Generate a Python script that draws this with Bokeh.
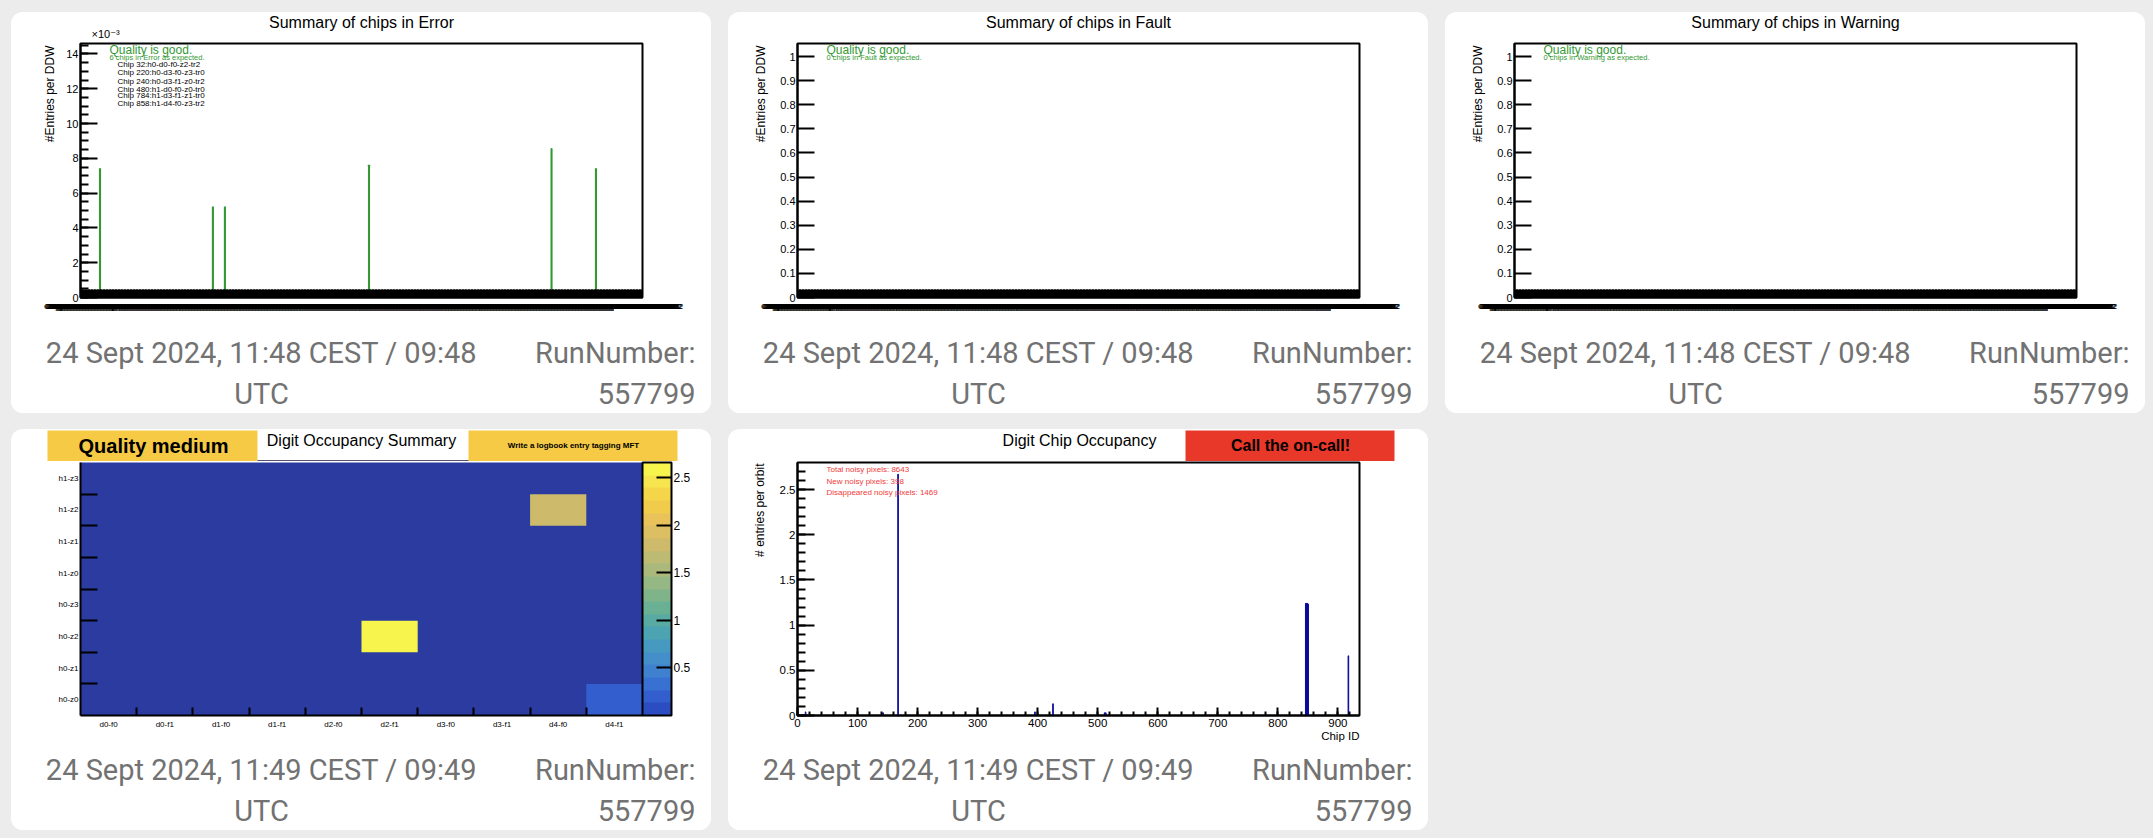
import math
from bokeh.plotting import figure
from bokeh.layouts import row, column
from bokeh.models import (Range1d, FixedTicker, Label, Title,
                          LinearColorMapper, ColorBar, ColumnDataSource)
from bokeh.embed import file_html
from bokeh.resources import INLINE

# ------------------------------------------------------------------ data
N_CHIPS = 936
chip_bin_labels = [
    f"Chip {i}:h{i // 468}-d{(i % 468) // 94}-f{(i % 94) // 47}-z{(i % 47) // 12}-tr{(i % 12) // 4}"
    for i in range(N_CHIPS)
]

summary_titles = ["Summary of chips in Error", "Summary of chips in Fault",
                  "Summary of chips in Warning"]
summary_quality = ["Quality is good.", "Quality is good.", "Quality is good."]
summary_counts = ["6 chips in Error as expected.", "0 chips in Fault as expected.",
                  "0 chips in Warning as expected."]

error_chips = [32, 220, 240, 480, 784, 858]
error_values_e3 = [7.4, 5.2, 5.2, 7.6, 8.55, 7.4]          # x 10^-3
error_chip_names = ["Chip 32:h0-d0-f0-z2-tr2", "Chip 220:h0-d3-f0-z3-tr0",
                    "Chip 240:h0-d3-f1-z0-tr2", "Chip 480:h1-d0-f0-z0-tr0",
                    "Chip 784:h1-d3-f1-z1-tr0", "Chip 858:h1-d4-f0-z3-tr2"]
error_yticks = [0, 2, 4, 6, 8, 10, 12, 14]
error_yminor = [0.5 * k for k in range(30)]
error_ymax = 14.6

unit_yticks = [0.0, 0.1, 0.2, 0.3, 0.4, 0.5, 0.6, 0.7, 0.8, 0.9, 1.0]
unit_ytick_labels = ["0", "0.1", "0.2", "0.3", "0.4", "0.5", "0.6", "0.7", "0.8", "0.9", "1"]
unit_ymax = 1.054

occ_cols = ["d0-f0", "d0-f1", "d1-f0", "d1-f1", "d2-f0", "d2-f1", "d3-f0", "d3-f1", "d4-f0", "d4-f1"]
occ_rows = ["h0-z0", "h0-z1", "h0-z2", "h0-z3", "h1-z0", "h1-z1", "h1-z2", "h1-z3"]
occ_values = [                       # rows bottom (h0-z0) -> top (h1-z3)
    [0, 0, 0, 0, 0, 0, 0, 0, 0, 0.2],
    [0, 0, 0, 0, 0, 0, 0, 0, 0, 0],
    [0, 0, 0, 0, 0, 2.66, 0, 0, 0, 0],
    [0, 0, 0, 0, 0, 0, 0, 0, 0, 0],
    [0, 0, 0, 0, 0, 0, 0, 0, 0, 0],
    [0, 0, 0, 0, 0, 0, 0, 0, 0, 0],
    [0, 0, 0, 0, 0, 0, 0, 0, 1.8, 0],
    [0, 0, 0, 0, 0, 0, 0, 0, 0, 0],
]
occ_zmax = 2.66
cbar_ticks = [0.5, 1, 1.5, 2, 2.5]
cbar_tick_labels = ["0.5", "1", "1.5", "2", "2.5"]
cbar_palette = ["#2c4dc2", "#325fcd", "#3971d2", "#3f81cf", "#448fc9", "#479abf",
                "#4ca3b1", "#58aaa3", "#69b095", "#7fb48b", "#95b783", "#aab97b",
                "#bcba73", "#cdbb6b", "#dcbe63", "#e9c35a", "#f1cb4b", "#f5d64b",
                "#f6e54f", "#f7f54d"]

noisy_chip_ids = [13, 142, 167, 395, 425, 511, 513, 846, 847, 848, 849, 850, 917]
noisy_values = [0.04, 0.03, 2.67, 0.04, 0.13, 0.03, 0.03, 1.24, 1.24, 1.24, 1.24, 1.23, 0.66]
noisy_xticks = [0, 100, 200, 300, 400, 500, 600, 700, 800, 900]
noisy_xminor = list(range(0, 940, 20))
noisy_yticks = [0, 0.5, 1, 1.5, 2, 2.5]
noisy_ytick_labels = ["0", "0.5", "1", "1.5", "2", "2.5"]
noisy_yminor = [0.1 * k for k in range(29)]
noisy_ymax = 2.8
noisy_texts = ["Total noisy pixels: 8643", "New noisy pixels: 398",
               "Disappeared noisy pixels: 1469"]

quality_banner = ["Quality medium", "Write a logbook entry tagging MFT", "Call the on-call!"]
timestamps = ["24 Sept 2024, 11:48 CEST / 09:48"] * 3 + ["24 Sept 2024, 11:49 CEST / 09:49"] * 2
run_number = "557799"

# ------------------------------------------------------------------ style
BG = "#ececec"
FONT = "Liberation Sans"
GREEN = "#339933"
NAVY = "#0b0b9c"
YELLOW = "#f6ca45"
RED = "#e8382a"
FOOT = "#727272"
CARD_W, CARD_H = 700, 401


def no_align(f):
    try:
        f.frame_align = False
    except Exception:
        pass
    return f


def text_fig(h):
    """a plain white strip (header / footer of a card) measured in pixels"""
    f = figure(width=CARD_W, height=h, x_range=Range1d(0, CARD_W), y_range=Range1d(h, 0),
               x_axis_type=None, y_axis_type=None, min_border=0,
               toolbar_location=None, output_backend="svg", title=None)
    f.grid.visible = False
    f.outline_line_color = None
    f.background_fill_color = "white"
    f.border_fill_color = "white"
    return no_align(f)


def txt(f, x, y, text, **kw):
    kw.setdefault("text_font", FONT)
    kw.setdefault("text_baseline", "middle")
    kw.setdefault("text_color", "black")
    f.add_layout(Label(x=x, y=y, text=text, **kw))


def main_fig(x_range, y_range, geom, top, bottom, outline=True):
    FL, FW, FH = geom
    p = figure(width=CARD_W, height=top + FH + bottom, x_range=x_range, y_range=y_range,
               min_border_left=FL, min_border_right=CARD_W - FL - FW,
               min_border_top=top, min_border_bottom=bottom,
               toolbar_location=None, output_backend="svg", title=None)
    p.background_fill_color = "white"
    p.border_fill_color = "white"
    p.grid.visible = False
    p.outline_line_color = "black" if outline else None
    p.outline_line_width = 2
    return no_align(p)


def inframe(p, geom, fx, fy, text, **kw):
    """text at pixel offset (fx right, fy down) from the frame's top-left corner"""
    FL, FW, FH = geom
    kw.setdefault("text_font", FONT)
    kw.setdefault("text_baseline", "middle")
    kw.setdefault("text_color", "black")
    p.add_layout(Label(x=fx, y=FH - fy, x_units="screen", y_units="screen", text=text, **kw))


def style_axis(ax, tick_in, minor_in, size, standoff, major_w=2):
    ax.axis_line_color = "black"
    ax.axis_line_width = 2
    ax.major_tick_in = tick_in
    ax.major_tick_out = 0
    ax.major_tick_line_width = major_w
    ax.minor_tick_in = minor_in
    ax.minor_tick_out = 0
    ax.minor_tick_line_width = 2
    if minor_in == 0:
        ax.minor_tick_line_color = None
    ax.major_label_text_font = FONT
    ax.major_label_text_font_size = size
    ax.major_label_text_color = "black"
    ax.major_label_standoff = standoff


def side_title(p, text, side, standoff, size="12px", offset=0):
    p.add_layout(Title(text=text, align="right", offset=offset, standoff=standoff,
                       text_font=FONT, text_font_size=size, text_font_style="normal",
                       text_color="black"), side)


def footer(h, stamp, y1, y2):
    f = text_fig(h)
    kw = dict(text_font="Roboto", text_font_size="29px", text_color=FOOT)
    txt(f, 250, y1, stamp, text_align="center", **kw)
    txt(f, 250, y2, "UTC", text_align="center", **kw)
    txt(f, 684, y1, "RunNumber:", text_align="right", **kw)
    txt(f, 684, y2, run_number, text_align="right", **kw)
    return f


def card(*figs):
    return column(*figs, spacing=0,
                  styles={"background-color": "white", "border-radius": "12px",
                          "overflow": "hidden"})


bin_overrides = {i + 0.5: chip_bin_labels[i] for i in range(N_CHIPS)}


def summary_card(k):
    geom = (69, 562, 254)
    hdr = text_fig(29)
    txt(hdr, 350, 10, summary_titles[k], text_align="center", text_font_size="16px")
    yr = Range1d(0, error_ymax) if k == 0 else Range1d(0, unit_ymax)
    p = main_fig(Range1d(0, N_CHIPS), yr, geom, top=2, bottom=30)
    # x axis: one labelled tick per chip bin
    p.xaxis.ticker = FixedTicker(ticks=[i + 0.5 for i in range(N_CHIPS)])
    p.xaxis.major_label_overrides = bin_overrides
    style_axis(p.xaxis, 8, 0, "7.5px", 4, major_w=1)
    if k == 0:
        p.yaxis.ticker = FixedTicker(ticks=error_yticks, minor_ticks=error_yminor)
        style_axis(p.yaxis, 17, 8, "11px", 2)
        src = ColumnDataSource(dict(x=[c + 0.5 for c in error_chips], top=error_values_e3))
        p.vbar(x="x", top="top", bottom=0, width=1, source=src,
               fill_color=GREEN, line_color=GREEN, line_width=1.5)
        txt(hdr, 80, 21, "\u00d710\u207b\u00b3", text_font_size="11px",
            text_font="Liberation Sans, DejaVu Sans")
        side_title(p, "#Entries per DDW", "left", standoff=13, offset=2)
    else:
        p.yaxis.ticker = FixedTicker(ticks=unit_yticks)
        p.yaxis.major_label_overrides = dict(zip(unit_yticks, unit_ytick_labels))
        style_axis(p.yaxis, 17, 0, "11px", 2)
        side_title(p, "#Entries per DDW", "left", standoff=20, offset=2)
    inframe(p, geom, 29, 6, summary_quality[k], text_font_size="12px", text_color=GREEN)
    inframe(p, geom, 29, 14, summary_counts[k], text_font_size="7.5px", text_color=GREEN)
    if k == 0:
        for name, fy in zip(error_chip_names, [21.3, 29.3, 37.6, 46.3, 51.7, 59.7]):
            inframe(p, geom, 37, fy, name, text_font_size="8px")
    ftr = footer(86, timestamps[k], 25, 66)
    return card(hdr, p, ftr)


c1 = summary_card(0)
c2 = summary_card(1)
c3 = summary_card(2)

# ------------------------------------------------------------ heat map
g4 = (69, 562, 253)
h4 = text_fig(32)
h4.quad(left=[36, 457], right=[246, 666], top=[1, 1], bottom=[32, 32],
        fill_color=YELLOW, line_color=None)
h4.segment(x0=[246], x1=[457], y0=[31.5], y1=[31.5], line_color="#1a1a40", line_width=1.5)
txt(h4, 142, 16, quality_banner[0], text_align="center", text_font_size="20px",
    text_font_style="bold")
txt(h4, 350, 11, "Digit Occupancy Summary", text_align="center", text_font_size="16px")
txt(h4, 562, 16, quality_banner[1], text_align="center", text_font_size="8px",
    text_font_style="bold")

p4 = main_fig(Range1d(0, len(occ_cols)), Range1d(0, len(occ_rows)), g4, top=1, bottom=30,
              outline=False)
p4.background_fill_color = "#2b3b9f"
mapper = LinearColorMapper(palette=cbar_palette, low=0, high=occ_zmax)
hx, hy, hv = [], [], []
for r, vals in enumerate(occ_values):
    for c, v in enumerate(vals):
        if v > 0:
            hx.append(c + 0.5)
            hy.append(r + 0.5)
            hv.append(v)
p4.rect(x="x", y="y", width=1, height=1, source=ColumnDataSource(dict(x=hx, y=hy, v=hv)),
        fill_color={"field": "v", "transform": mapper}, line_color=None)
p4.xaxis.ticker = FixedTicker(ticks=[c + 0.5 for c in range(len(occ_cols))],
                              minor_ticks=list(range(1, len(occ_cols))))
p4.xaxis.major_label_overrides = {c + 0.5: occ_cols[c] for c in range(len(occ_cols))}
style_axis(p4.xaxis, 0, 8, "8px", 4)
p4.yaxis.ticker = FixedTicker(ticks=[r + 0.5 for r in range(len(occ_rows))],
                              minor_ticks=list(range(1, len(occ_rows))))
p4.yaxis.major_label_overrides = {r + 0.5: occ_rows[r] for r in range(len(occ_rows))}
style_axis(p4.yaxis, 0, 17, "8px", 2)
cb = ColorBar(color_mapper=mapper, width=29, padding=0, margin=3, location="top_left",
              ticker=FixedTicker(ticks=cbar_ticks),
              major_label_overrides=dict(zip(cbar_ticks, cbar_tick_labels)),
              major_tick_in=15, major_tick_out=0, major_tick_line_color="black",
              major_tick_line_width=2, minor_tick_line_color=None,
              bar_line_color="black", bar_line_width=2, label_standoff=2,
              major_label_text_font=FONT, major_label_text_font_size="12px",
              major_label_text_color="black",
              background_fill_color=None, border_line_color=None)
p4.add_layout(cb, "right")
f4 = footer(85, timestamps[3], 24, 65)
c4 = card(h4, p4, f4)

# ------------------------------------------------------ chip occupancy
g5 = (69, 562, 253)
h5 = text_fig(32)
h5.quad(left=[457], right=[666], top=[1], bottom=[32], fill_color=RED, line_color=None)
txt(h5, 351, 11, "Digit Chip Occupancy", text_align="center", text_font_size="16px")
txt(h5, 562, 16, quality_banner[2], text_align="center", text_font_size="16px",
    text_font_style="bold")

p5 = main_fig(Range1d(0, N_CHIPS), Range1d(0, noisy_ymax), g5, top=1, bottom=30)
p5.vbar(x=[c + 0.5 for c in noisy_chip_ids], top=noisy_values, bottom=0, width=1,
        fill_color=NAVY, line_color=NAVY, line_width=1)
p5.xaxis.ticker = FixedTicker(ticks=noisy_xticks, minor_ticks=noisy_xminor)
style_axis(p5.xaxis, 8, 4, "11.5px", 3)
p5.yaxis.ticker = FixedTicker(ticks=noisy_yticks, minor_ticks=noisy_yminor)
p5.yaxis.major_label_overrides = dict(zip(noisy_yticks, noisy_ytick_labels))
style_axis(p5.yaxis, 17, 8, "11.5px", 2)
side_title(p5, "# entries per orbit", "left", standoff=20, offset=1)
side_title(p5, "Chip ID", "below", standoff=-4, size="11.5px")
for t, fy in zip(noisy_texts, [6.5, 18.5, 30]):
    inframe(p5, g5, 29, fy, t, text_font_size="8px", text_color="#f03a3a")
f5 = footer(85, timestamps[4], 24, 65)
c5 = card(h5, p5, f5)

# ------------------------------------------------------------ layout
row1 = row(c1, c2, c3, spacing=17)
row2 = row(c4, c5, spacing=17)
row1.margin = (12, 8, 0, 11)
row2.margin = (0, 8, 8, 11)
page = column(row1, row2, spacing=16, styles={"background-color": BG})

open("out.html", "w").write(file_html(page, INLINE))
